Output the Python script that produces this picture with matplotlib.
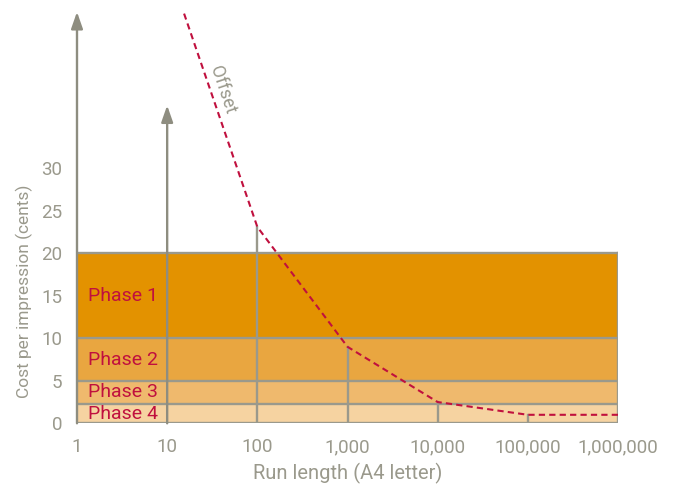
import matplotlib.pyplot as plt
from matplotlib.ticker import FixedLocator, FixedFormatter

# run lengths on the log x axis
run_lengths = [1, 10, 100, 1000, 10000, 100000, 1000000]
run_labels = ['1', '10', '100', '1,000', '10,000', '100,000', '1,000,000']

# cost bands (cents)
phase_names = ['Phase 1', 'Phase 2', 'Phase 3', 'Phase 4']
phase_low = [10, 5, 2.3, 0]
phase_high = [20, 10, 5, 2.3]
phase_colors = ['#e39200', '#e9a640', '#efb96d', '#f6d3a1']

# offset cost curve
offset_x = [15.4, 100, 1000, 10000, 100000, 1000000]
offset_y = [48.2, 23.1, 9.0, 2.5, 1.0, 1.0]

# arrow tops for the y axis and the run length 10 line
y_axis_top = 48.4
ten_line_top = 37.4

y_ticks = [0, 5, 10, 15, 20, 25, 30]

GREY = '#9a998c'
RED = '#c0103e'
TEXT_GREY = '#9a998c'

plt.rcParams['font.family'] = ['Roboto', 'DejaVu Sans']

fig = plt.figure(figsize=(6.75, 4.84), dpi=100)
ax = fig.add_axes([77 / 675, (484 - 423.3) / 484, 541 / 675, 49 * 8.5 / 484])
ax.set_xscale('log')
ax.set_xlim(1, 1e6)
ax.set_ylim(0, 49)

# bands
for name, lo, hi, col in zip(phase_names, phase_low, phase_high, phase_colors):
    ax.fill_between([run_lengths[0], run_lengths[-1]], lo, hi, color=col, lw=0, zorder=1)
    ax.text(1.31, (lo + hi) / 2, name, color=RED, fontsize=14, va='center', ha='left', zorder=5)

# band edges
for yv in sorted(set(phase_low + phase_high)):
    ax.plot([run_lengths[0], run_lengths[-1]], [yv, yv], color=GREY, lw=1.7, zorder=2,
            solid_capstyle='butt')
ax.plot([run_lengths[-1], run_lengths[-1]], [0, max(phase_high)], color=GREY, lw=1.7, zorder=2)

# drop lines from the offset curve
for xv, yv in zip(offset_x[1:-1], offset_y[1:-1]):
    ax.plot([xv, xv], [0, yv], color=GREY, lw=1.7, zorder=2)

# arrows
for xv, top in [(run_lengths[0], y_axis_top), (run_lengths[1], ten_line_top)]:
    ax.annotate('', xy=(xv, top), xytext=(xv, 0),
                arrowprops=dict(arrowstyle='-|>,head_length=1.0,head_width=0.35',
                                color='#8e8d80', lw=1.7, shrinkA=0, shrinkB=0),
                zorder=3)

# offset curve
ax.plot(offset_x, offset_y, color=RED, lw=1.5, ls=(0, (3, 2)), zorder=4)
ax.text(41, 39.2, 'Offset', color=TEXT_GREY, fontsize=13, rotation=-71.5,
        ha='center', va='center', rotation_mode='anchor')

for s in ax.spines.values():
    s.set_visible(False)
ax.xaxis.set_major_locator(FixedLocator(run_lengths))
ax.xaxis.set_major_formatter(FixedFormatter(run_labels))
ax.xaxis.set_minor_locator(FixedLocator([]))
ax.set_yticks(y_ticks)
ax.tick_params(length=0, colors=TEXT_GREY, labelsize=13.5)
ax.tick_params(axis='x', pad=10.5)
ax.tick_params(axis='y', pad=10.5)
ax.set_xlabel('Run length (A4 letter)', color=TEXT_GREY, fontsize=14.5, labelpad=5)
ax.set_ylabel('Cost per impression (cents)', color=TEXT_GREY, fontsize=12.5)
ax.yaxis.set_label_coords(-0.082, (423.3 - 291) / (49 * 8.5))

fig.savefig('out.png', dpi=100)
